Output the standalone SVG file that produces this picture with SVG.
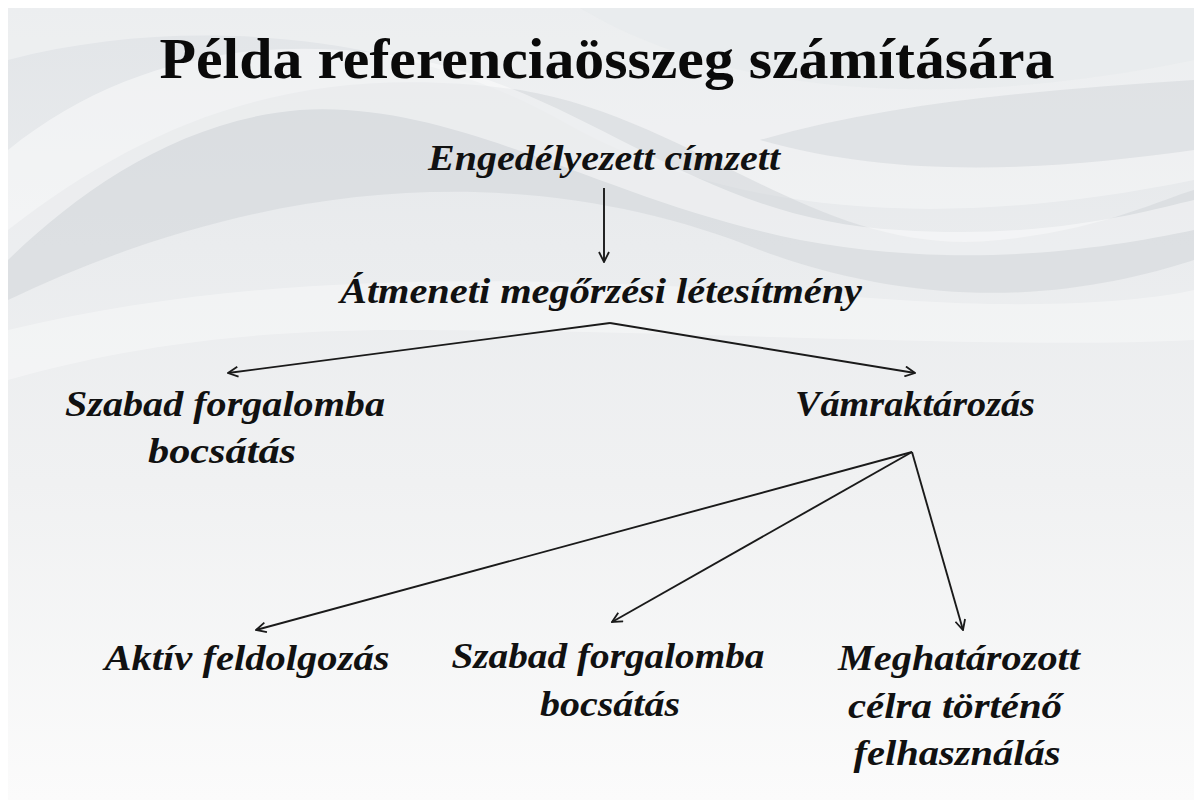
<svg xmlns="http://www.w3.org/2000/svg" width="1194" height="800" viewBox="0 0 1194 800">
<defs>
<linearGradient id="bg" x1="0" y1="0" x2="0" y2="1">
<stop offset="0" stop-color="#e2e5e8"/>
<stop offset="0.3" stop-color="#eaecee"/>
<stop offset="0.6" stop-color="#f0f1f2"/>
<stop offset="1" stop-color="#fbfbfb"/>
</linearGradient>
<marker id="ah" viewBox="0 0 12 12" refX="11" refY="6" markerWidth="12" markerHeight="12" markerUnits="userSpaceOnUse" orient="auto">
<path d="M1,1 L11,6 L1,11" fill="none" stroke="#1a1a1a" stroke-width="1.8"/>
</marker>
<style>
.lbl{font-family:"Liberation Serif","Times New Roman",serif;font-weight:bold;font-style:italic;font-size:35px;fill:#111;}
.ttl{font-family:"Liberation Serif","Times New Roman",serif;font-weight:bold;font-size:58px;fill:#0a0a0a;}
.cn{stroke:#1a1a1a;stroke-width:1.9;fill:none;marker-end:url(#ah);}
</style>
</defs>
<rect width="1194" height="800" fill="#ffffff"/>
<rect x="8" y="8" width="1186" height="792" fill="url(#bg)"/>
<g id="background-waves">
<path d="M8,60 C200,10 420,40 560,120 C700,200 900,240 1194,180 L1194,8 L8,8 Z" fill="#ffffff" opacity="0.35"/>
<path d="M8,230 C150,120 300,60 520,90 C700,120 820,260 1000,240 C1100,230 1160,200 1194,190 L1194,260 C1100,290 950,320 760,250 C560,170 300,160 8,300 Z" fill="#cfd4d8" opacity="0.5"/>
<path d="M8,150 C120,60 260,30 420,60 C600,100 700,220 900,230 C1050,240 1150,210 1194,200 L1194,230 C1100,250 960,270 800,240 C600,200 460,100 300,110 C180,120 80,190 8,260 Z" fill="#ffffff" opacity="0.45"/>
<path d="M8,330 C300,260 600,280 900,300 C1050,310 1150,300 1194,290 L1194,340 C1000,350 700,330 400,330 C200,330 80,360 8,380 Z" fill="#ffffff" opacity="0.35"/>
<path d="M580,8 C700,80 900,120 1194,60 L1194,8 Z" fill="#e6e9ec" opacity="0.5"/>
<path d="M760,140 C900,100 1050,90 1194,80 L1194,150 C1050,170 900,180 760,140 Z" fill="#d2d6da" opacity="0.5"/>
</g>
<g id="title"><text class="ttl" x="607" y="78" text-anchor="middle" textLength="895" lengthAdjust="spacingAndGlyphs">Példa referenciaösszeg számítására</text></g>
<g id="connectors">
<line class="cn" x1="604" y1="188" x2="604" y2="262"/>
<line class="cn" x1="610" y1="323" x2="228" y2="373"/>
<line class="cn" x1="610" y1="323" x2="915" y2="373"/>
<line class="cn" x1="912" y1="452" x2="256" y2="630"/>
<line class="cn" x1="912" y1="452" x2="612" y2="622"/>
<line class="cn" x1="912" y1="452" x2="963" y2="630"/>
</g>
<g id="n-engedelyezett"><text class="lbl" x="604" y="170" text-anchor="middle" textLength="352" lengthAdjust="spacingAndGlyphs">Engedélyezett címzett</text></g>
<g id="n-atmeneti"><text class="lbl" x="601" y="303" text-anchor="middle" textLength="522" lengthAdjust="spacingAndGlyphs">Átmeneti megőrzési létesítmény</text></g>
<g id="n-szabad1">
<text class="lbl" x="225" y="416" text-anchor="middle" textLength="320" lengthAdjust="spacingAndGlyphs">Szabad forgalomba</text>
<text class="lbl" x="222" y="463" text-anchor="middle" textLength="148" lengthAdjust="spacingAndGlyphs">bocsátás</text>
</g>
<g id="n-vamraktarozas"><text class="lbl" x="915" y="416" text-anchor="middle" textLength="240" lengthAdjust="spacingAndGlyphs">Vámraktározás</text></g>
<g id="n-aktiv"><text class="lbl" x="247" y="670" text-anchor="middle" textLength="285" lengthAdjust="spacingAndGlyphs">Aktív feldolgozás</text></g>
<g id="n-szabad2">
<text class="lbl" x="608" y="668" text-anchor="middle" textLength="313" lengthAdjust="spacingAndGlyphs">Szabad forgalomba</text>
<text class="lbl" x="610" y="716" text-anchor="middle" textLength="140" lengthAdjust="spacingAndGlyphs">bocsátás</text>
</g>
<g id="n-meghatarozott">
<text class="lbl" x="959" y="670" text-anchor="middle" textLength="242" lengthAdjust="spacingAndGlyphs">Meghatározott</text>
<text class="lbl" x="955" y="718" text-anchor="middle" textLength="214" lengthAdjust="spacingAndGlyphs">célra történő</text>
<text class="lbl" x="957" y="765" text-anchor="middle" textLength="207" lengthAdjust="spacingAndGlyphs">felhasználás</text>
</g>
</svg>
